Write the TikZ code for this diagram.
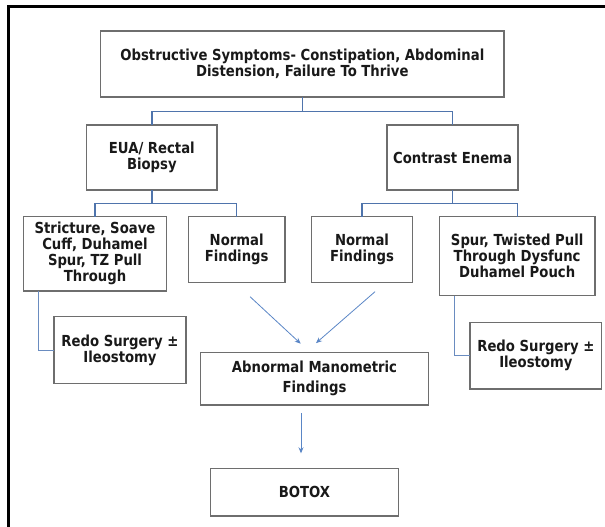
\documentclass[tikz,border=0pt]{standalone}
\usepackage{fontspec}
\setmainfont{DejaVu Sans}[FakeStretch=0.87]
\usetikzlibrary{arrows.meta,calc,shadows}
\definecolor{connblue}{HTML}{4F74AC}
\definecolor{sideblue}{HTML}{6A8CC0}
\definecolor{arrblue}{HTML}{5A86C6}
\definecolor{boxline}{HTML}{6E6E6E}
\begin{document}
\begin{tikzpicture}[x=1pt,y=1pt,
  box/.style={draw=boxline, line width=1.2pt, fill=white, align=center,
    inner sep=0pt, outer sep=0pt, text=black!90,
    font=\fontsize{15.2}{16}\selectfont\bfseries,
    drop shadow={shadow xshift=0.7pt, shadow yshift=-0.7pt, fill=black!45, opacity=1}},
  conn/.style={draw=connblue, line width=1.3pt},
  sideconn/.style={draw=sideblue, line width=1pt},
  arr/.style={draw=arrblue, line width=0.8pt, -{Stealth[length=6pt,width=5pt]}},
  frameline/.style={draw=black, line width=3pt}]
\useasboundingbox (0,0) rectangle (605,-527);
% outer frame (left and top only visible)
\coordinate (fTL) at (8.3,-7);
\coordinate (fBL) at (8.3,-527);
\coordinate (fTR) at (605,-7);
\draw[frameline] (fBL) -- (fTL) -- (fTR);
% boxes
\node[box, minimum width=403.3, minimum height=66] (top) at (302.35,-64)
  {Obstructive Symptoms- Constipation, Abdominal\\Distension, Failure To Thrive};
\node[box, minimum width=130.3, minimum height=65] (eua) at (151.85,-157.5)
  {EUA/ Rectal\\Biopsy};
\node[box, minimum width=131, minimum height=65] (ce) at (452.5,-157.5)
  {Contrast Enema};
\node[box, minimum width=143.4, minimum height=74.3] (str) at (95,-253.85)
  {Stricture, Soave\\Cuff, Duhamel\\Spur, TZ Pull\\Through};
\node[box, minimum width=96.7, minimum height=65.6] (nl) at (236.65,-249.5)
  {Normal\\Findings};
\node[box, minimum width=100.6, minimum height=65.6] (nr) at (362,-249.5)
  {Normal\\Findings};
\node[box, minimum width=155.7, minimum height=79] (spur) at (517.15,-256.2)
  {Spur, Twisted Pull\\Through Dysfunc\\Duhamel Pouch};
\node[box, minimum width=132, minimum height=67] (redoL) at (120,-350.2)
  {Redo Surgery ±\\Ileostomy};
\node[box, minimum width=131.7, minimum height=66.3] (redoR) at (535.85,-355.85)
  {Redo Surgery ±\\Ileostomy};
\node[box, minimum width=227.6, minimum height=52.3,
  font=\fontsize{15.2}{20}\selectfont\bfseries] (abn) at (314.5,-378.85)
  {Abnormal Manometric\\Findings};
\node[box, minimum width=187.6, minimum height=47.7] (botox) at (304.5,-492.15)
  {BOTOX};
% tree connectors
\draw[conn] (top.south) |- ($(eua.north)+(0,13.5)$) -- (eua.north);
\draw[conn] (top.south) |- ($(ce.north)+(0,13.5)$) -- (ce.north);
\draw[conn] (eua.south) |- ($(str.north)+(0,13.4)$) -- (str.north);
\draw[conn] (eua.south) |- ($(nl.north)+(0,13.4)$) -- (nl.north);
\draw[conn] (ce.south) |- ($(nr.north)+(0,13.4)$) -- (nr.north);
\draw[conn] (ce.south) |- ($(spur.north)+(0,13.4)$) -- (spur.north);
\draw[sideconn] ($(str.south west)+(15,0)$) |- (redoL.west);
\draw[sideconn] ($(spur.south west)+(14.7,0)$) |- (redoR.west);
% arrows
\draw[arr] ($(nl.south)+(13.4,-14.4)$) -- ($(abn.north)+(-13.8,9)$);
\draw[arr] ($(nr.south)+(13,-9.4)$) -- ($(abn.north)+(1.5,9.6)$);
\draw[arr] ($(abn.south)+(-13.5,-8.3)$) -- ($(botox.north)+(-3.5,15)$);
\end{tikzpicture}
\end{document}
